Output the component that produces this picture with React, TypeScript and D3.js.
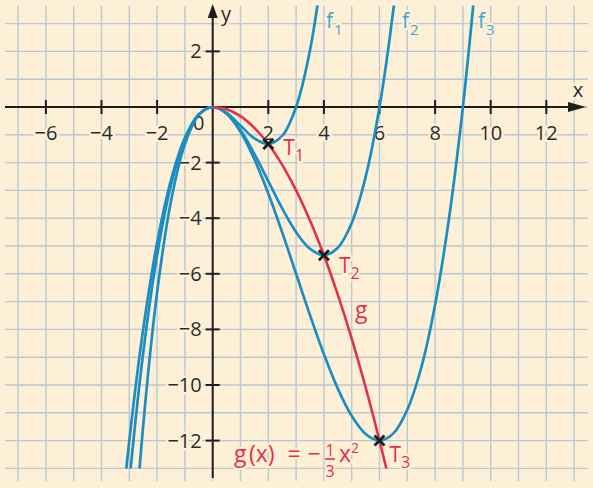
import { useRef, useEffect } from "react";
import * as d3 from "d3";

// curve samples [x, y]
const f1Points: [number, number][] = [
  [-3, -18], [-2.5, -11.46], [-2, -6.67], [-1.5, -3.38], [-1, -1.33], [-0.5, -0.29],
  [0, 0], [0.5, -0.21], [1, -0.67], [1.5, -1.13], [2, -1.33], [2.5, -1.04],
  [3, 0], [3.5, 2.04], [4, 5.33],
];
const f2Points: [number, number][] = [
  [-3.5, -19.4], [-3, -13.5], [-2.5, -8.85], [-2, -5.33], [-1.5, -2.81], [-1, -1.17],
  [-0.5, -0.27], [0, 0], [0.5, -0.23], [1, -0.83], [1.5, -1.69], [2, -2.67],
  [2.5, -3.65], [3, -4.5], [3.5, -5.1], [4, -5.33], [4.5, -5.06], [5, -4.17],
  [5.5, -2.52], [6, 0], [6.5, 3.52], [7, 8.17],
];
const f3Points: [number, number][] = [
  [-3.5, -17.01], [-3, -12], [-2.5, -7.99], [-2, -4.89], [-1.5, -2.63], [-1, -1.11],
  [-0.5, -0.26], [0, 0], [0.5, -0.24], [1, -0.89], [1.5, -1.88], [2, -3.11],
  [2.5, -4.51], [3, -6], [3.5, -7.49], [4, -8.89], [4.5, -10.13], [5, -11.11],
  [5.5, -11.76], [6, -12], [6.5, -11.74], [7, -10.89], [7.5, -9.38], [8, -7.11],
  [8.5, -4.01], [9, 0], [9.5, 5.01],
];
const gPoints: [number, number][] = [
  [0, 0], [0.5, -0.08], [1, -0.33], [1.5, -0.75], [2, -1.33], [2.5, -2.08], [3, -3],
  [3.5, -4.08], [4, -5.33], [4.5, -6.75], [5, -8.33], [5.5, -10.08], [6, -12],
  [6.5, -14.08], [7, -16.33],
];
const turningPoints: [number, number][] = [[2, -1.33], [4, -5.33], [6, -12]];
const turningNames = ["1", "2", "3"];

const xTicks = [-6, -4, -2, 2, 4, 6, 8, 10, 12];
const yTicks = [2, -2, -4, -6, -8, -10, -12];

const BG = "#fdf0d7";
const GRID = "#bcc8cf";
const BLUE = "#1b8dc2";
const BLUE_LABEL = "#3ea8d6";
const RED = "#e5304b";
const INK = "#1d1d1b";
const FONT = "'Open Sans', 'Noto Sans', sans-serif";

export default function App() {
  const svgRef = useRef<SVGSVGElement>(null);

  useEffect(() => {
    if (!svgRef.current) return;
    const svg = d3.select(svgRef.current);
    svg.selectAll("*").remove();

    const W = 593;
    const H = 488;
    const x = d3.scaleLinear().domain([-7, 13]).range([18.1, 574.1]);
    const y = d3.scaleLinear().domain([3, -13]).range([23.6, 468.4]);
    const x0 = x(0);
    const y0 = y(0);

    svg.append("rect").attr("width", W).attr("height", H).attr("fill", BG);

    // Grid
    const grid = svg.append("g").attr("stroke", GRID).attr("stroke-width", 1.4);
    grid.selectAll("line.v")
      .data(d3.range(-7, 14))
      .enter()
      .append("line")
      .attr("x1", (d) => x(d))
      .attr("x2", (d) => x(d))
      .attr("y1", 6)
      .attr("y2", 481);
    grid.selectAll("line.h")
      .data(d3.range(-13, 4))
      .enter()
      .append("line")
      .attr("x1", 5)
      .attr("x2", 588)
      .attr("y1", (d) => y(d))
      .attr("y2", (d) => y(d));

    // Axes
    const axes = svg.append("g").attr("stroke", INK).attr("stroke-width", 2);
    axes.append("line").attr("x1", 5).attr("x2", 572).attr("y1", y0).attr("y2", y0);
    axes.append("line").attr("x1", x0).attr("x2", x0).attr("y1", 478).attr("y2", 16);
    svg.append("path")
      .attr("d", `M586,${y0} L568,${y0 - 5} L568,${y0 + 5} Z`)
      .attr("fill", INK);
    svg.append("path")
      .attr("d", `M${x0},4 L${x0 - 5},18 L${x0 + 5},18 Z`)
      .attr("fill", INK);

    axes.selectAll("line.xt")
      .data(xTicks)
      .enter()
      .append("line")
      .attr("x1", (d) => x(d))
      .attr("x2", (d) => x(d))
      .attr("y1", y0 - 7)
      .attr("y2", y0 + 7);
    axes.selectAll("line.yt")
      .data(yTicks)
      .enter()
      .append("line")
      .attr("x1", x0 - 7)
      .attr("x2", x0 + 7)
      .attr("y1", (d) => y(d))
      .attr("y2", (d) => y(d));

    const fmt = (d: number) => (d < 0 ? `\u2212${-d}` : `${d}`);
    const labels = svg.append("g")
      .attr("font-family", FONT)
      .attr("font-size", 20)
      .attr("font-weight", 500)
      .attr("fill", "#2b2b2b")
      .attr("stroke", BG)
      .attr("stroke-width", 5)
      .attr("paint-order", "stroke")
      .attr("stroke-linejoin", "round");
    labels.selectAll("text.xl")
      .data(xTicks)
      .enter()
      .append("text")
      .attr("x", (d) => x(d))
      .attr("y", y0 + 33)
      .attr("text-anchor", "middle")
      .text(fmt);
    labels.selectAll("text.yl")
      .data(yTicks)
      .enter()
      .append("text")
      .attr("x", x0 - 11)
      .attr("y", (d) => y(d) + 7)
      .attr("text-anchor", "end")
      .text(fmt);
    labels.append("text").attr("x", x0 - 14).attr("y", y0 + 23).attr("text-anchor", "middle").text("0");
    labels.append("text").attr("x", 578).attr("y", 97).attr("text-anchor", "middle").text("x");
    labels.append("text").attr("x", 221).attr("y", 21).text("y");

    // Curves
    svg.append("clipPath")
      .attr("id", "plotClip")
      .append("rect")
      .attr("x", 0)
      .attr("y", y(3.65))
      .attr("width", W)
      .attr("height", y(-13) - y(3.65));

    const line = d3.line<[number, number]>()
      .x((d) => x(d[0]))
      .y((d) => y(d[1]))
      .curve(d3.curveCatmullRom.alpha(0.5));

    const curves = svg.append("g").attr("clip-path", "url(#plotClip)").attr("fill", "none");
    [f1Points, f2Points, f3Points].forEach((pts) => {
      curves.append("path")
        .attr("d", line(pts))
        .attr("stroke", BLUE)
        .attr("stroke-width", 2.7);
    });
    curves.append("path")
      .attr("d", line(gPoints))
      .attr("stroke", RED)
      .attr("stroke-width", 2.6);

    // f labels
    const fLabels = [
      { name: "1", x: 326 },
      { name: "2", x: 402 },
      { name: "3", x: 478 },
    ];
    fLabels.forEach((f) => {
      const t = svg.append("text")
        .attr("x", f.x)
        .attr("y", 28)
        .attr("font-family", FONT)
        .attr("font-size", 21)
        .attr("font-weight", 500)
        .attr("fill", BLUE_LABEL)
        .attr("stroke", BG)
        .attr("stroke-width", 4)
        .attr("paint-order", "stroke");
      t.append("tspan").text("f");
      t.append("tspan").attr("font-size", 15).attr("dy", 7).attr("dx", 1).text(f.name);
    });

    // Turning point markers
    const cross = svg.append("g").attr("stroke", INK).attr("stroke-width", 2.8);
    turningPoints.forEach(([px, py]) => {
      const cx = x(px);
      const cy = y(py);
      cross.append("path").attr("d", `M${cx - 5},${cy - 5} L${cx + 5},${cy + 5} M${cx - 5},${cy + 5} L${cx + 5},${cy - 5}`);
    });

    const tOffsets = [
      { dx: 15, dy: 11 },
      { dx: 15, dy: 18 },
      { dx: 10, dy: 21 },
    ];
    const redText = svg.append("g")
      .attr("font-family", FONT)
      .attr("font-weight", 500)
      .attr("fill", RED)
      .attr("stroke", BG)
      .attr("stroke-width", 4)
      .attr("paint-order", "stroke");
    turningPoints.forEach(([px, py], i) => {
      const t = redText.append("text")
        .attr("x", x(px) + tOffsets[i].dx)
        .attr("y", y(py) + tOffsets[i].dy)
        .attr("font-size", 21);
      t.append("tspan").text("T");
      t.append("tspan").attr("font-size", 16).attr("dy", 6).text(turningNames[i]);
    });
    redText.append("text").attr("x", 355).attr("y", 318).attr("font-size", 23).text("g");

    // Equation g(x) = -1/3 x^2
    const eq = redText.append("g").attr("font-size", 23);
    eq.append("text").attr("x", 234).attr("y", 462).text("g");
    eq.append("text").attr("x", 249).attr("y", 462).text("(x)");
    eq.append("text").attr("x", 294).attr("y", 462).attr("text-anchor", "middle").text("=");
    eq.append("text").attr("x", 314).attr("y", 462).attr("text-anchor", "middle").text("\u2212");
    eq.append("text").attr("x", 330).attr("y", 456).attr("font-size", 16).attr("text-anchor", "middle").text("1");
    eq.append("line")
      .attr("x1", 325).attr("x2", 335).attr("y1", 459).attr("y2", 459)
      .attr("stroke", RED).attr("stroke-width", 1.6);
    eq.append("text").attr("x", 330).attr("y", 477).attr("font-size", 16).attr("text-anchor", "middle").text("3");
    const xs = eq.append("text").attr("x", 339).attr("y", 462);
    xs.append("tspan").text("x");
    xs.append("tspan").attr("font-size", 14).attr("dy", -9).text("2");
  }, []);

  return (
    <svg
      ref={svgRef}
      width={593}
      height={488}
      style={{ position: "absolute", left: 0, top: 0, display: "block" }}
    />
  );
}
